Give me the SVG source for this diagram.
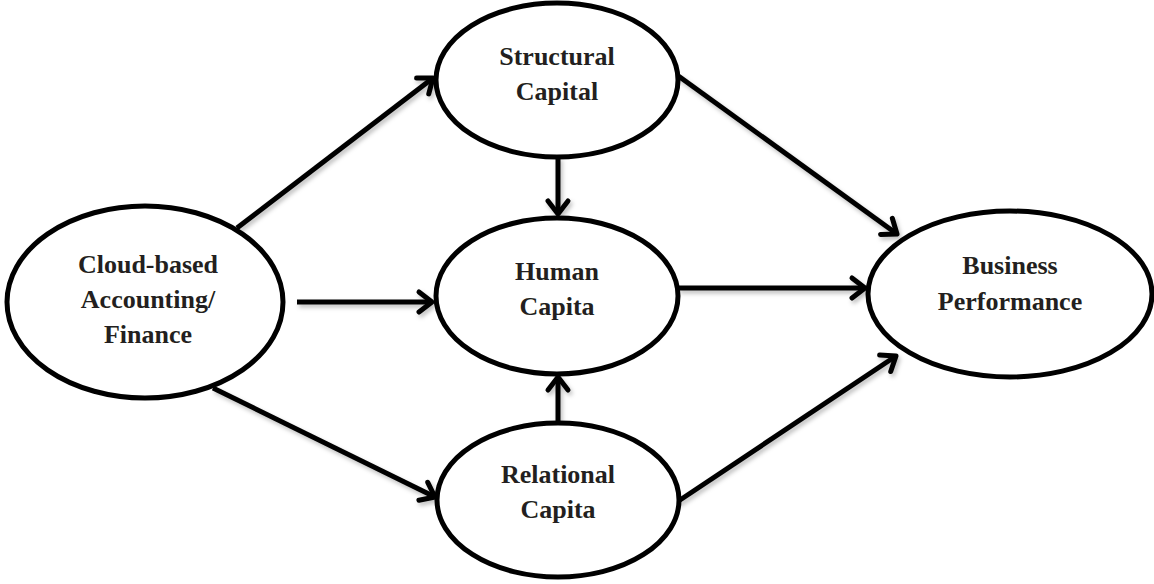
<svg xmlns="http://www.w3.org/2000/svg" width="1154" height="584" viewBox="0 0 1154 584">
<style>
.node ellipse{fill:#fff;stroke:#000;stroke-width:5}
.node text{font-family:"Liberation Serif","Times New Roman",serif;font-weight:bold;font-size:26px;fill:#231f20;text-anchor:middle}
.conn line{stroke:#000;stroke-width:5;marker-end:url(#arr)}
</style>
<defs>
<marker id="arr" markerUnits="userSpaceOnUse" markerWidth="30" markerHeight="30" viewBox="-20 -15 30 30" refX="0" refY="0" orient="auto">
<path d="M-13,-10 L0,0 L-13,10" fill="none" stroke="#000" stroke-width="5" stroke-linecap="round" stroke-linejoin="round"/>
</marker>
<filter id="sh" x="-10%" y="-10%" width="120%" height="120%">
<feDropShadow dx="2" dy="3" stdDeviation="2" flood-color="#000" flood-opacity="0.25"/>
</filter>
</defs>
<g id="connectors" class="conn" filter="url(#sh)">
<line x1="237" y1="228" x2="433" y2="78"/>
<line x1="297" y1="302" x2="432" y2="302"/>
<line x1="213" y1="388" x2="435" y2="497"/>
<line x1="558" y1="157" x2="558" y2="214"/>
<line x1="558" y1="423" x2="558" y2="377"/>
<line x1="677" y1="75" x2="897" y2="234"/>
<line x1="678" y1="288" x2="865" y2="288"/>
<line x1="677" y1="502" x2="896" y2="356"/>
</g>
<g id="node-cloud" class="node">
<ellipse cx="145" cy="302" rx="138" ry="96"/>
<text x="148" y="273">Cloud-based</text>
<text x="148" y="308">Accounting/</text>
<text x="148" y="343">Finance</text>
</g>
<g id="node-structural" class="node">
<ellipse cx="557" cy="80" rx="121" ry="77"/>
<text x="557" y="65">Structural</text>
<text x="557" y="100">Capital</text>
</g>
<g id="node-human" class="node">
<ellipse cx="557" cy="296" rx="121" ry="78"/>
<text x="557" y="280">Human</text>
<text x="557" y="315">Capita</text>
</g>
<g id="node-relational" class="node">
<ellipse cx="558" cy="500" rx="121" ry="77"/>
<text x="558" y="483">Relational</text>
<text x="558" y="518">Capita</text>
</g>
<g id="node-business" class="node">
<ellipse cx="1010" cy="294" rx="142" ry="83"/>
<text x="1010" y="274">Business</text>
<text x="1010" y="310">Performance</text>
</g>
</svg>
